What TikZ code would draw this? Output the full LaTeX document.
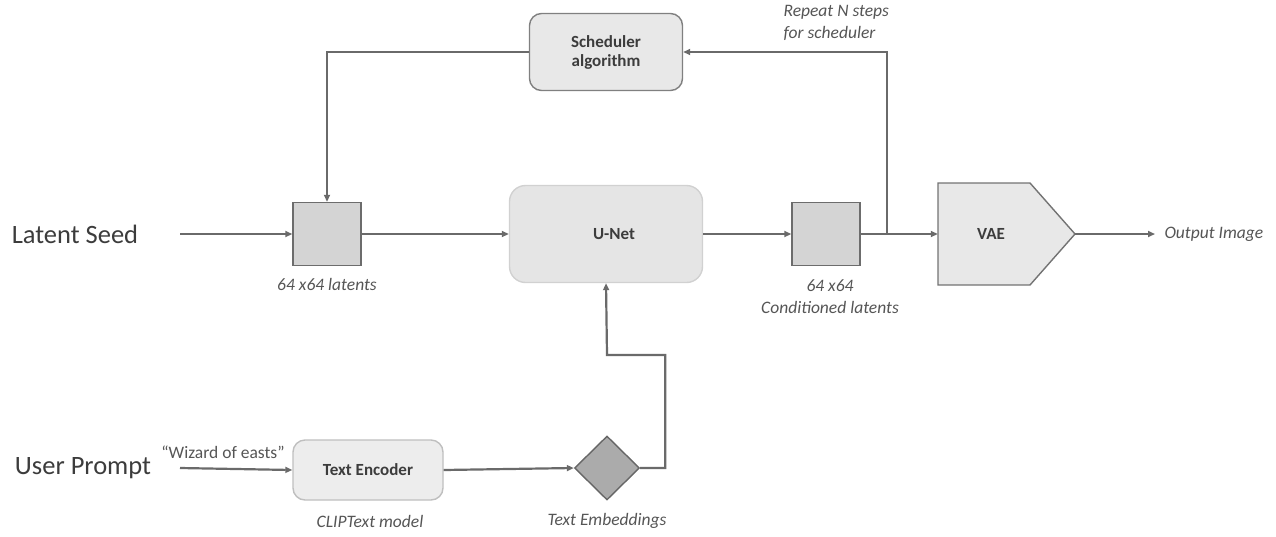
\documentclass[tikz,border=0pt]{standalone}
\usepackage{fontspec}
\setmainfont{Carlito}
\usetikzlibrary{arrows.meta,shapes.geometric}
\definecolor{linegray}{HTML}{6A6A6A}
\definecolor{txtdark}{HTML}{3C3C3C}
\definecolor{capgray}{HTML}{555555}
\tikzset{
  conn/.style={draw=linegray, line width=2.2pt, -{Triangle[length=7pt,width=6pt]}},
  plain/.style={draw=linegray, line width=2.2pt},
  roundbox/.style={rounded corners=12pt, line width=1.4pt, align=center,
     font=\fontsize{17}{19}\selectfont\bfseries, text=txtdark},
  latbox/.style={draw=gray!85!black, fill=black!17, line width=1.4pt,
     minimum width=68pt, minimum height=63pt},
  caption/.style={font=\fontsize{17.5}{22}\selectfont\itshape, text=capgray, align=center},
  bigtext/.style={font=\fontsize{26.5}{30}\selectfont, text=txtdark}
}
\begin{document}
\begin{tikzpicture}[x=1pt,y=-1pt]
\useasboundingbox (0,0) rectangle (1276,536);

% boxes
\node[roundbox, draw=black!50, fill=black!9, minimum width=153pt, minimum height=77pt]
  (sched) at (606,52) {Scheduler\\algorithm};
\node[latbox] (lat) at (327,234) {};
\node[roundbox, draw=black!18, fill=black!10, minimum width=193pt, minimum height=97pt,
  rounded corners=16pt] (unet) at (606,234) {};
\node[font=\fontsize{17}{19}\selectfont\bfseries, text=txtdark] (unettxt) at (614,234) {U-Net};
\node[latbox] (cond) at (826,234) {};
\node[roundbox, draw=black!25, fill=black!7, minimum width=150pt, minimum height=60pt]
  (enc) at (368,470) {Text Encoder};
\node[diamond, draw=black!60, fill=black!33, line width=1.4pt,
  minimum width=65pt, minimum height=64pt, inner sep=0pt] (emb) at (607,468) {};

% VAE block
\draw[draw=black!55, fill=black!9, line width=1.4pt]
  (938,183) -- (1030,183) -- (1075,234) -- (1030,285) -- (938,285) -- cycle;
\node[minimum width=137pt, minimum height=102pt, inner sep=0pt] (vae) at (1006.5,234) {};
\node[font=\fontsize{17}{19}\selectfont\bfseries, text=txtdark] (vaetxt) at (991,234) {VAE};
\coordinate (vaetip) at (1075,234);

% labels
\node[bigtext] (seed) at (75,234) {Latent Seed};
\node[bigtext] (user) at (83,468) {User Prompt};
\node[caption] (latcap) at (327,284) {64 x64 latents};
\node[caption] (condcap) at (830,297) {64 x64\\Conditioned latents};
\node[caption] (enccap) at (370,521) {CLIPText model};
\node[caption] (embcap) at (607,521) {Text Embeddings};
\node[caption, anchor=west] (out) at (1161,234) {Output Image};
\node[caption, align=left, anchor=north west] (rep) at (780,2) {Repeat N steps\\for scheduler};
\node[font=\fontsize{17.5}{20}\selectfont, text=capgray] (quote) at (223,452) {“Wizard of easts”};

% connectors
\coordinate (seedend) at (180,234);
\coordinate (userend) at (180,468);
\coordinate (junc) at (887,234);
\coordinate (outend) at (1155,234);
\draw[conn] (seedend) -- (lat.west);
\draw[conn] (lat.east) -- (unet.west);
\draw[conn] (unet.east) -- (cond.west);
\draw[plain] (cond.east) -- (junc);
\draw[conn] (junc) -- (vae.west);
\draw[conn] (vaetip) -- (outend);
\draw[conn] (junc) |- (sched.east);
\draw[conn] (sched.west) -| (lat.north);
\draw[conn] (userend) -- (enc.west);
\draw[conn] (enc.east) -- (emb.west);
\draw[conn] (emb.east) -- ++(25,0) |- (607,355) -- (unet.south);
\end{tikzpicture}
\end{document}
